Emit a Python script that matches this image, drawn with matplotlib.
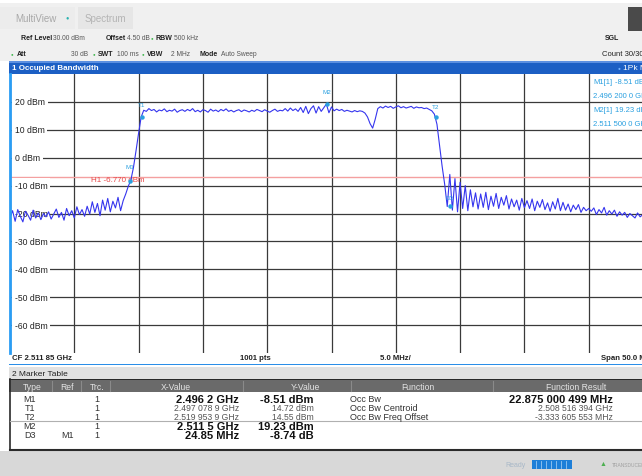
import numpy as np
import matplotlib
matplotlib.use("Agg")
import matplotlib.pyplot as plt
from matplotlib.patches import Rectangle
import matplotlib.transforms as mtransforms

plt.rcParams['font.family'] = ['Liberation Sans', 'DejaVu Sans']

# sweep setup
center_ghz = 2.51185
span_mhz = 50.0
ref_level = 30
range_db = 100
h1_level = -6.770

# trace, 0.2 MHz per point
trace_dbm = [
    -21.5, -19.0, -22.8, -18.6, -21.0, -23.0, -19.2, -20.6, -22.4, -18.8, -21.6, -19.8, -22.2, -20.0, -21.2,
    -19.4, -22.0, -20.2, -18.4, -21.4, -19.6, -22.4, -18.2, -20.8, -19.0, -21.6, -17.6, -20.4, -18.6, -21.0,
    -17.4, -20.2, -15.8, -19.6, -16.4, -20.8, -15.2, -18.8, -14.6, -19.4, -15.6, -18.0, -14.2, -19.0, -15.4,
    -13.0, -10.2, -8.0, -3.5, 2.5, 8.8, 14.6, 17.0,
    16.6, 17.6, 16.9, 17.3, 16.4, 17.1, 16.8, 17.5, 16.5, 17.0, 16.7, 17.4, 16.3, 16.9, 17.2,
    16.6, 17.3, 16.8, 17.6, 16.5, 17.0, 16.4, 17.2, 16.9, 16.3, 17.4, 16.7, 17.1, 16.5, 17.3,
    16.8, 17.5, 16.6, 17.0, 16.4, 16.9, 17.2, 16.5, 17.1, 16.8, 16.4, 17.0, 16.6, 17.3, 16.9,
    16.5, 17.2, 16.7, 16.3, 16.9, 17.4, 16.6, 17.0, 16.8, 17.6, 16.7, 17.8, 16.9, 17.5, 16.6,
    18.0, 16.2, 18.4, 15.8, 17.6, 18.6, 16.0, 18.3, 16.6, 17.9, 19.2, 16.1, 18.2, 16.8, 17.4,
    16.9, 17.3, 16.6, 17.0, 16.7, 16.4, 16.9, 16.5, 16.8, 16.6,
    16.0, 14.6, 12.2, 10.6, 13.8, 17.6,
    18.3, 17.8, 18.5, 18.0, 18.4, 17.7, 18.2, 18.6, 17.9, 18.3, 17.8, 18.1, 18.4, 17.7, 18.2, 17.9, 18.0, 17.6, 17.8,
    17.3, 16.8, 15.6, 12.0, 4.5, -3.0, -9.5, -17.5,
    -6.0, -18.8, -7.5, -19.4, -8.8, -18.2, -10.0, -19.0, -11.5, -17.6,
    -12.6, -18.4, -13.0, -17.8, -12.4, -18.6, -13.8, -17.4, -12.8, -18.2, -14.2, -17.0, -13.6, -18.4, -14.8,
    -17.6, -15.2, -18.8, -14.6, -17.9,
    -15.4, -18.2, -14.8, -19.0, -15.6, -17.8, -15.0, -18.6, -16.2, -19.2, -15.8, -18.4, -14.6, -19.0, -16.0,
    -18.8, -16.6, -19.4, -17.0, -18.6, -16.8, -19.6, -17.8, -19.0, -18.2,
    -19.2, -18.0, -20.4, -18.6, -19.8, -17.8, -20.6, -19.0, -20.2, -18.8, -21.0, -19.4, -20.6, -19.6, -21.4,
    -20.0, -20.8, -21.6, -19.8, -21.2, -20.4, -21.8, -20.6, -21.2, -20.8,
]

marker_names = ['M1', 'T1', 'T2', 'M2', 'D3']
marker_freq = [2.4962, 2.4970789, 2.5199539, 2.5115, 2.52105]
marker_level = [-8.51, 14.72, 14.55, 19.23, -17.25]
marker_label_y = [-3.3, 19.2, 18.5, 23.9, -14.4]

level_ticks = [20, 10, 0, -10, -20, -30, -40, -50, -60]

# marker table
tbl_type = ['M1', 'T1', 'T2', 'M2', 'D3']
tbl_ref = ['', '', '', '', 'M1']
tbl_trc = ['1', '1', '1', '1', '1']
tbl_x = ['2.496 2 GHz', '2.497 078 9 GHz', '2.519 953 9 GHz', '2.511 5 GHz', '24.85 MHz']
tbl_y = ['-8.51 dBm', '14.72 dBm', '14.55 dBm', '19.23 dBm', '-8.74 dB']
tbl_bold = [True, False, False, True, True]
func_names = ['Occ Bw', 'Occ Bw Centroid', 'Occ Bw Freq Offset']
func_results = ['22.875 000 499 MHz', '2.508 516 394 GHz', '-3.333 605 553 MHz']

f_start = center_ghz - span_mhz / 2000
f_stop = center_ghz + span_mhz / 2000
freqs = np.linspace(f_start, f_stop, len(trace_dbm))

W, H = 642, 477
fig = plt.figure(figsize=(W / 100, H / 100), dpi=100)
fig.patch.set_facecolor('white')

# background layer in pixel coords
bg = fig.add_axes([0, 0, 1, 1], zorder=0)
bg.set_xlim(0, W)
bg.set_ylim(H, 0)
bg.axis('off')

def rect(x, y, w, h, c, z=1):
    bg.add_patch(Rectangle((x, y), w, h, facecolor=c, edgecolor='none', zorder=z))

def txt(x, y, s, size=5.0, c='#222222', bold=False, ha='left', **kw):
    bg.text(x, y, s, fontsize=size, color=c, ha=ha, va='center',
            fontweight='bold' if bold else 'normal', zorder=5, **kw)

# top bar
rect(0, 4, W, 58, '#f0f0f0')
rect(0, 8, 75, 22, '#ececec')
rect(78, 8, 55, 22, '#e6e6e6')
txt(15, 19, 'MultiView', 7, '#a8a8a8')
txt(67, 18, '\u25cf', 4, '#2ab3b0', ha='center')
txt(85, 19, 'Spectrum', 7, '#b4b4b4')
rect(628, 8, 20, 24, '#4a4a4a')

gray = '#555555'
green = '#3cb54a'
txt(21, 38, 'Ref Level', bold=True)
txt(53, 38, '30.00 dBm', 4.8, gray)
txt(106, 38, 'Offset', bold=True)
txt(127, 38, '4.50 dB', 4.8, gray)
txt(152, 38, '\u25cf', 3.2, green, ha='center')
txt(156, 38, 'RBW', bold=True)
txt(174, 38, '500 kHz', 4.8, gray)

txt(12, 54, '\u25cf', 3.2, green, ha='center')
txt(17, 54, 'Att', bold=True)
txt(71, 54, '30 dB', 4.8, gray)
txt(94, 54, '\u25cf', 3.2, green, ha='center')
txt(98, 54, 'SWT', bold=True)
txt(117, 54, '100 ms', 4.8, gray)
txt(143, 54, '\u25cf', 3.2, green, ha='center')
txt(147, 54, 'VBW', bold=True)
txt(171, 54, '2 MHz', 4.8, gray)
txt(200, 54, 'Mode', bold=True)
txt(221, 54, 'Auto Sweep', 4.8, gray)

txt(605, 38, 'SGL', bold=True)
txt(602, 54, 'Count 30/30', 5.5)

# window title bar
rect(9, 62, W, 13, '#1c5fc4')
rect(9, 62, W, 1.5, '#5b8fe0', 2)
txt(12, 68.5, '1 Occupied Bandwidth', 5.8, 'white', bold=True)
txt(619, 68.5, '\u25cf', 3.5, '#6fb0ff', ha='center')
txt(623, 68.5, '1Pk Max', 6, 'white')

# window bottom info row
rect(9, 354, W, 11, 'white')
rect(9, 364.5, W, 1.5, '#2a8ee8', 2)
txt(12, 359, 'CF 2.511 85 GHz', 5.6, bold=True)
txt(255, 359, '1001 pts', 5.6, bold=True, ha='center')
txt(395, 359, '5.0 MHz/', 5.6, bold=True, ha='center')
txt(655, 359, 'Span 50.0 MHz', 5.6, bold=True, ha='right')

# marker table
rect(9, 368, W, 12, '#e2e2e2')
txt(12, 374.5, '2 Marker Table', 6)
rect(9, 381, W, 12, '#6a6a6a')
rect(9, 380, W, 1.2, '#2a2a2a', 2)
hdr_x = [32, 67, 97, 176, 305, 418, 576]
hdr_txt = ['Type', 'Ref', 'Trc.', 'X-Value', 'Y-Value', 'Function', 'Function Result']
for hx, ht in zip(hdr_x, hdr_txt):
    txt(hx, 387.5, ht, 6.2, '#e4e4e4', ha='center')
for sx in [52, 81, 110, 243, 351, 493]:
    bg.plot([sx, sx], [382, 392], color='#8a8a8a', lw=0.8, zorder=3)
rect(9, 393, W, 58, 'white')
bg.plot([10, 10], [380, 451], color='#2a2a2a', lw=1.2, zorder=3)
bg.plot([10, W], [422, 422], color='#b0b0b0', lw=0.8, zorder=3)
bg.plot([10, W], [451, 451], color='#2a2a2a', lw=1.5, zorder=3)

row_y = [400, 409, 418, 427, 436]
for i, ry in enumerate(row_y):
    b = tbl_bold[i]
    col = '#111111' if b else '#555555'
    txt(30, ry, tbl_type[i], 6.5, '#333333', ha='center')
    txt(67, ry, tbl_ref[i], 6.5, '#333333', ha='center')
    txt(97, ry, tbl_trc[i], 6.5, '#333333', ha='center')
    txt(239, ry, tbl_x[i], 8 if b else 6.2, col, bold=b, ha='right')
    txt(314, ry, tbl_y[i], 8 if b else 6.2, col, bold=b, ha='right')
for i, fn in enumerate(func_names):
    txt(350, row_y[i], fn, 6.5, '#333333')
    txt(613, row_y[i], func_results[i], 8 if i == 0 else 6.2,
        '#111111' if i == 0 else '#555555', bold=(i == 0), ha='right')

# status bar
rect(0, 452, W, 25, '#d8d8d8')
txt(505, 466, 'Ready', 5, '#a8b8c8')
rect(532, 461, 40, 9, '#1e7fd8')
for k in range(7):
    bg.plot([536 + k * 5, 536 + k * 5], [462, 469], color='#9cc8f0', lw=0.6, zorder=3)
txt(603, 465, '\u25b2', 5, '#4caf50', ha='center')
txt(612, 466, 'TRANSDUCER', 3.5, '#a0a0a0')

# spectrum window
ax = fig.add_axes([10 / W, (H - 354) / H, 643 / W, 279 / H], zorder=1)
ax.set_facecolor('white')
ax.set_xlim(f_start, f_stop)
ax.set_ylim(ref_level - range_db, ref_level)
ax.set_xticks(np.linspace(f_start, f_stop, 11))
ax.set_yticks(level_ticks)
ax.grid(True, color='#3a3a3a', lw=0.9)
ax.tick_params(length=0, labelbottom=False, labelleft=False)
for s in ['top', 'right', 'bottom']:
    ax.spines[s].set_visible(False)
ax.spines['left'].set_color('#2a9df4')
ax.spines['left'].set_linewidth(2)
ax.spines['left'].set_zorder(6)

lbl_tr = mtransforms.blended_transform_factory(ax.transAxes, ax.transData)
for lv in level_ticks:
    ax.text(0.0075, lv, f'{lv} dBm', transform=lbl_tr, fontsize=6.2, color='#222222',
            va='center', ha='left', zorder=3,
            bbox=dict(facecolor='white', edgecolor='none', pad=2))

ax.axhline(h1_level, color='#f4a0a0', lw=1.0, zorder=2)
ax.text(0.126, h1_level - 0.9, f'H1 {h1_level:.3f} dBm', transform=lbl_tr, fontsize=5.8,
        color='#e84848', va='center', ha='left', zorder=2)

ax.plot(freqs, trace_dbm, color='#3535ee', lw=0.8, zorder=4)

mk_col = '#2aa0e0'
for name, mf, ml, ly in zip(marker_names, marker_freq, marker_level, marker_label_y):
    ax.plot(mf, ml, 'o', ms=2.2, color=mk_col, zorder=5)
    ax.text(mf, ly, name, fontsize=4.5, color=mk_col, ha='center', va='center', zorder=6)

# marker readout, top right
for y, s in [(82, 'M1[1]'), (110, 'M2[1]')]:
    ax.text(612, y, s, transform=bg.transData, fontsize=5.5, color=mk_col,
            ha='right', va='center', zorder=6)
for y, x, s in [(82, 615, '-8.51 dBm'), (96, 593, '2.496 200 0 GHz'),
                (110, 615, '19.23 dBm'), (125, 593, '2.511 500 0 GHz')]:
    ax.text(x, y, s, transform=bg.transData, fontsize=5.5, color=mk_col,
            ha='left', va='center', zorder=6)

fig.savefig('out.png', dpi=100)
